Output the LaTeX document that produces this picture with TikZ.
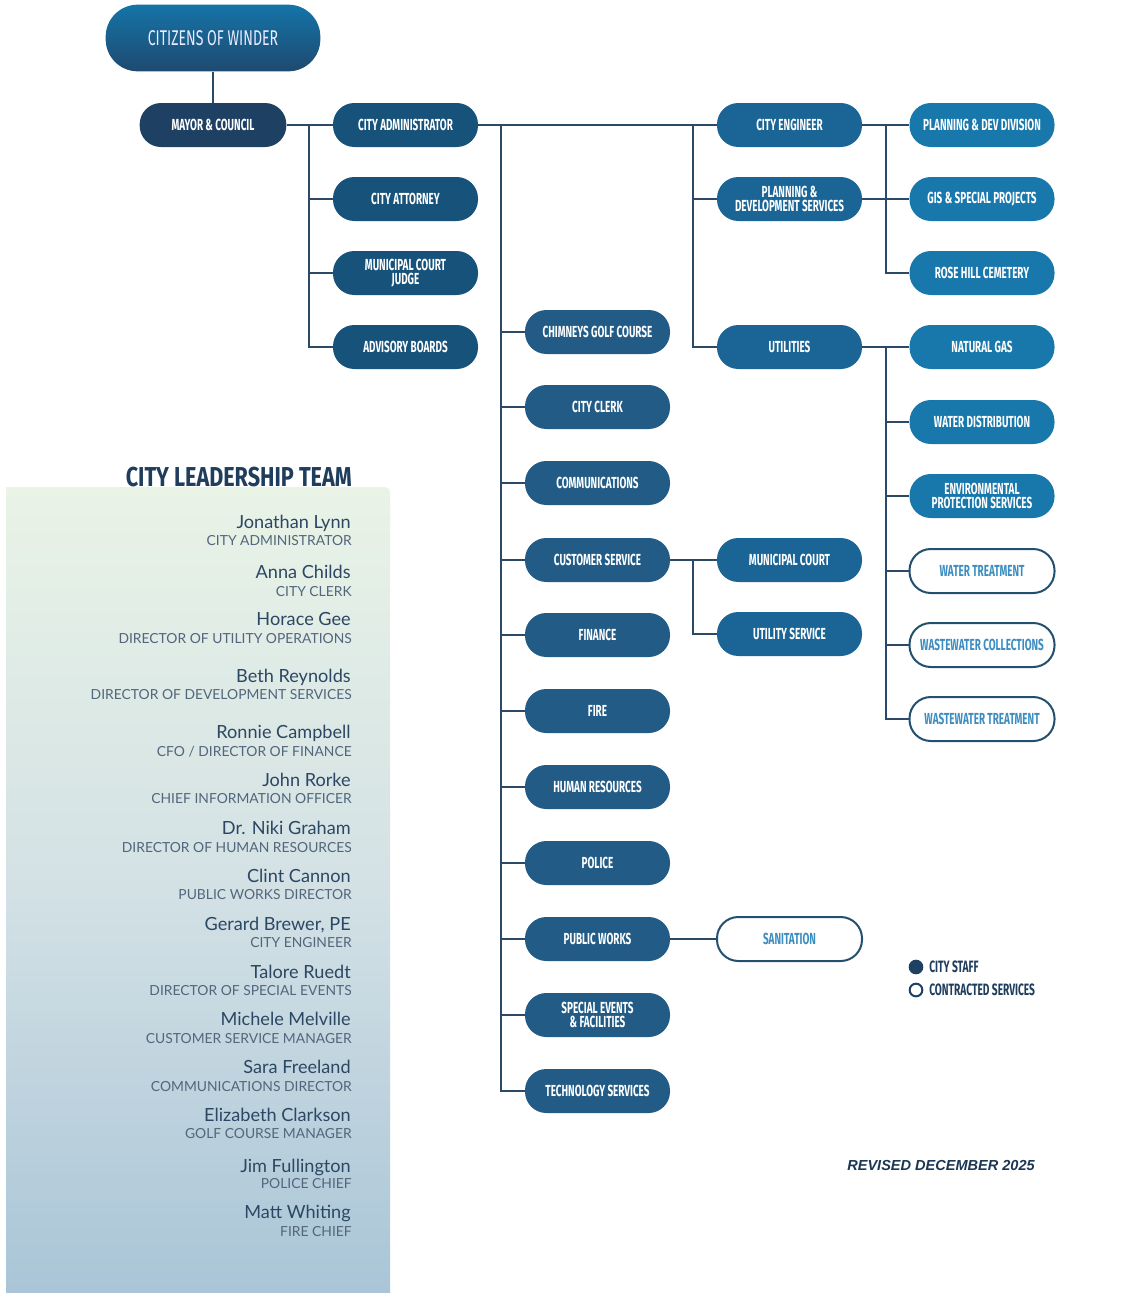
\documentclass[tikz,border=0pt]{standalone}
\usepackage{fontspec}
\setmainfont{Lato}
\newfontfamily\cond[FakeStretch=0.66]{Fira Sans}
\newfontfamily\condb[FakeStretch=0.62]{Fira Sans}
\newfontfamily\condh[FakeStretch=0.79]{Fira Sans}
\newfontfamily\lato{Lato}
\newfontfamily\arialf{Liberation Sans}
\definecolor{linec}{HTML}{2B4A68}
\definecolor{mayorc}{HTML}{1D4063}
\definecolor{admc}{HTML}{16527A}
\definecolor{midc}{HTML}{225C86}
\definecolor{engc}{HTML}{1A6595}
\definecolor{rgtc}{HTML}{1878AC}
\definecolor{bordc}{HTML}{24506F}
\definecolor{contc}{HTML}{3C8DC0}
\definecolor{namec}{HTML}{2C4763}
\definecolor{titlec}{HTML}{52667C}
\definecolor{headc}{HTML}{1F3D5C}
\definecolor{citTop}{HTML}{1574A8}
\definecolor{citBot}{HTML}{1E4A70}
\definecolor{panTop}{HTML}{E9F3E6}
\definecolor{panMid}{HTML}{D3E1E5}
\definecolor{panBot}{HTML}{A9C5D7}
\begin{document}
\begin{tikzpicture}[x=0.75pt,y=-0.75pt,
  conn/.style={draw=linec, line width=1.5pt},
  box/.style={rectangle, rounded corners=16pt, minimum width=108.75pt, minimum height=33pt, inner sep=0pt, align=center, text=white, font=\condb\bfseries\fontsize{12}{10.5}\selectfont},
  mayor/.style={box, fill=mayorc, minimum width=110pt},
  adm/.style={box, fill=admc},
  mid/.style={box, fill=midc},
  eng/.style={box, fill=engc},
  rgt/.style={box, fill=rgtc},
  con/.style={box, fill=white, draw=bordc, line width=1.5pt, text=contc},
  nm/.style={anchor=base east, inner sep=0pt, font=\lato\fontsize{13.6}{14}\selectfont, text=namec},
  tl/.style={anchor=base east, inner sep=0pt, font=\lato\fontsize{10.4}{11}\selectfont, text=titlec},
  legtext/.style={anchor=west, inner sep=0pt, font=\condb\bfseries\fontsize{12.3}{12}\selectfont, text=headc}]
\fill[white] (0,0) rectangle (1143,1293);
\useasboundingbox (0,0) rectangle (1143,1293);

% leadership panel
\shade[top color=panTop, bottom color=panBot, middle color=panMid] (6,1293) -- (6,487) -- (378,487) .. controls (390,487) .. (390,499) -- (390,1293) -- cycle;
\node[anchor=base east, inner sep=0pt, font=\condh\bfseries\fontsize{20.5}{22}\selectfont, text=headc] (head) at (352,486) {CITY LEADERSHIP TEAM};

\node[nm] (n1) at (351,528) {Jonathan Lynn};
\node[tl] (t1) at (352,545) {CITY ADMINISTRATOR};
\node[nm] (n2) at (351,578) {Anna Childs};
\node[tl] (t2) at (352,596) {CITY CLERK};
\node[nm] (n3) at (351,625) {Horace Gee};
\node[tl] (t3) at (352,643) {DIRECTOR OF UTILITY OPERATIONS};
\node[nm] (n4) at (351,682) {Beth Reynolds};
\node[tl] (t4) at (352,699) {DIRECTOR OF DEVELOPMENT SERVICES};
\node[nm] (n5) at (351,738) {Ronnie Campbell};
\node[tl] (t5) at (352,756) {CFO / DIRECTOR OF FINANCE};
\node[nm] (n6) at (351,786) {John Rorke};
\node[tl] (t6) at (352,803) {CHIEF INFORMATION OFFICER};
\node[nm] (n7) at (351,834) {Dr. Niki Graham};
\node[tl] (t7) at (352,852) {DIRECTOR OF HUMAN RESOURCES};
\node[nm] (n8) at (351,882) {Clint Cannon};
\node[tl] (t8) at (352,899) {PUBLIC WORKS DIRECTOR};
\node[nm] (n9) at (351,930) {Gerard Brewer, PE};
\node[tl] (t9) at (352,947) {CITY ENGINEER};
\node[nm] (n10) at (351,978) {Talore Ruedt};
\node[tl] (t10) at (352,995) {DIRECTOR OF SPECIAL EVENTS};
\node[nm] (n11) at (351,1025) {Michele Melville};
\node[tl] (t11) at (352,1043) {CUSTOMER SERVICE MANAGER};
\node[nm] (n12) at (351,1073) {Sara Freeland};
\node[tl] (t12) at (352,1091) {COMMUNICATIONS DIRECTOR};
\node[nm] (n13) at (351,1121) {Elizabeth Clarkson};
\node[tl] (t13) at (352,1138) {GOLF COURSE MANAGER};
\node[nm] (n14) at (351,1172) {Jim Fullington};
\node[tl] (t14) at (352,1188) {POLICE CHIEF};
\node[nm] (n15) at (351,1218) {Matt Whiting};
\node[tl] (t15) at (352,1236) {FIRE CHIEF};

% top
\node[rectangle, rounded corners=24pt, minimum width=161pt, minimum height=50pt, top color=citTop, bottom color=citBot, text=white!92!blue, font=\cond\fontsize{16}{16}\selectfont] (cit) at (213,38) {CITIZENS OF WINDER};
\node[mayor] (mc) at (213,125) {MAYOR \& COUNCIL};

% admin column
\node[adm] (ca) at (405.5,125) {CITY ADMINISTRATOR};
\node[adm] (att) at (405.5,199) {CITY ATTORNEY};
\node[adm] (jdg) at (405.5,273) {MUNICIPAL COURT\\JUDGE};
\node[adm] (adv) at (405.5,347) {ADVISORY BOARDS};

% middle column
\node[mid] (golf) at (597.5,332) {CHIMNEYS GOLF COURSE};
\node[mid] (clerk) at (597.5,407) {CITY CLERK};
\node[mid] (comm) at (597.5,483) {COMMUNICATIONS};
\node[mid] (cs) at (597.5,560) {CUSTOMER SERVICE};
\node[mid] (fin) at (597.5,635) {FINANCE};
\node[mid] (fire) at (597.5,711) {FIRE};
\node[mid] (hr) at (597.5,787) {HUMAN RESOURCES};
\node[mid] (pol) at (597.5,863) {POLICE};
\node[mid] (pw) at (597.5,939) {PUBLIC WORKS};
\node[mid] (spe) at (597.5,1015) {SPECIAL EVENTS\\\& FACILITIES};
\node[mid] (tech) at (597.5,1091) {TECHNOLOGY SERVICES};

% engineer column
\node[eng] (ce) at (789.5,125) {CITY ENGINEER};
\node[eng] (pds) at (789.5,199) {PLANNING \&\\DEVELOPMENT SERVICES};
\node[eng] (ut) at (789.5,347) {UTILITIES};
\node[eng] (mct) at (789.5,560) {MUNICIPAL COURT};
\node[eng] (us) at (789.5,634) {UTILITY SERVICE};
\node[con] (san) at (789.5,939) {SANITATION};

% right column
\node[rgt] (pdd) at (982,125) {PLANNING \& DEV DIVISION};
\node[rgt] (gis) at (982,199) {GIS \& SPECIAL PROJECTS};
\node[rgt] (rose) at (982,273) {ROSE HILL CEMETERY};
\node[rgt] (gas) at (982,347) {NATURAL GAS};
\node[rgt] (wd) at (982,422) {WATER DISTRIBUTION};
\node[rgt] (env) at (982,496) {ENVIRONMENTAL\\PROTECTION SERVICES};
\node[con] (wt) at (982,571) {WATER TREATMENT};
\node[con] (wc) at (982,645) {WASTEWATER COLLECTIONS};
\node[con] (wwt) at (982,719) {WASTEWATER TREATMENT};

% bus coordinates
\coordinate (b1) at (309,125);
\coordinate (b2) at (501,125);
\coordinate (b3) at (693,125);
\coordinate (b4) at (886,125);
\coordinate (b5) at (886,347);
\coordinate (b6) at (693,560);

% connectors
\draw[conn] (cit) -- (mc);
\draw[conn] (mc) -- (ca);
\draw[conn] (b1) |- (att.west);
\draw[conn] (b1) |- (jdg.west);
\draw[conn] (b1) |- (adv.west);
\draw[conn] (ca) -- (ce);
\foreach \n in {golf,clerk,comm,cs,fin,fire,hr,pol,pw,spe,tech}
  \draw[conn] (b2) |- (\n.west);
\draw[conn] (b3) |- (pds.west);
\draw[conn] (b3) |- (ut.west);
\draw[conn] (ce) -- (pdd);
\draw[conn] (pds) -- (gis);
\draw[conn] (b4) |- (gis.west);
\draw[conn] (b4) |- (rose.west);
\draw[conn] (ut) -- (gas);
\foreach \n in {wd,env,wt,wc,wwt}
  \draw[conn] (b5) |- (\n.west);
\draw[conn] (cs) -- (mct);
\draw[conn] (b6) |- (us.west);
\draw[conn] (pw) -- (san);

% legend
\node[circle, fill=mayorc, minimum size=11pt, inner sep=0pt] (lg1) at (916,967) {};
\node[legtext] (lt1) at (929,967) {CITY STAFF};
\node[circle, fill=white, draw=mayorc, line width=1.5pt, minimum size=9.5pt, inner sep=0pt] (lg2) at (916,990) {};
\node[legtext] (lt2) at (929,990) {CONTRACTED SERVICES};

\node[anchor=base east, inner sep=0pt, font=\arialf\bfseries\itshape\fontsize{10.9}{11}\selectfont, text=headc!90!black] (rev) at (1035,1170) {REVISED DECEMBER 2025};
\end{tikzpicture}
\end{document}
